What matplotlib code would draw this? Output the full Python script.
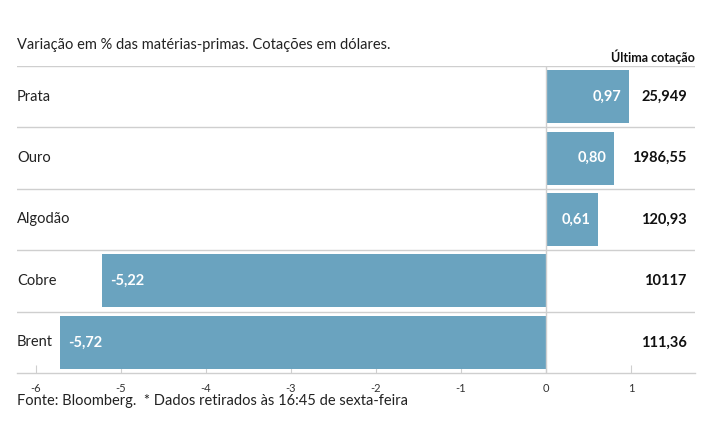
import matplotlib.pyplot as plt

plt.rcParams['font.family'] = ['Lato', 'DejaVu Sans']

commodities = ['Prata', 'Ouro', 'Algodão', 'Cobre', 'Brent']
change = [0.97, 0.80, 0.61, -5.22, -5.72]
last_quote = ['25,949', '1986,55', '120,93', '10117', '111,36']
xticks = [-6, -5, -4, -3, -2, -1, 0, 1]

bar_color = '#6aa3bf'
grid_color = '#cfcfcf'

fig = plt.figure(figsize=(7.15, 4.45), dpi=100)
ax = fig.add_axes([17 / 715, 1 - 373 / 445, 678 / 715, 307 / 445])

n = len(commodities)
ax.barh(range(n), change, height=0.86, color=bar_color, zorder=2)

# separadores entre linhas
for b in range(n):
    ax.axhline(b - 0.5, color=grid_color, lw=1, zorder=1)
ax.axvline(0, color=grid_color, lw=1, zorder=3)

for i, (name, v, q) in enumerate(zip(commodities, change, last_quote)):
    ax.text(0.0, i, name, transform=ax.get_yaxis_transform(), ha='left', va='center',
            fontsize=10.5, color='#222222')
    lbl = f'{v:.2f}'.replace('.', ',')
    if v >= 0:
        ax.text(v - 0.09, i, lbl, ha='right', va='center', color='white',
                fontsize=10.5, fontweight='bold', zorder=4)
    else:
        ax.text(v + 0.1, i, lbl, ha='left', va='center', color='white',
                fontsize=10.5, fontweight='bold', zorder=4)
    ax.text(0.988, i, q, transform=ax.get_yaxis_transform(), ha='right', va='center',
            fontsize=10.5, fontweight='bold', color='#111111')

ax.set_xlim(-6.22, 1.75)
ax.set_ylim(n - 0.5, -0.5)
ax.set_xticks(xticks)
ax.set_xticklabels([str(t) for t in xticks], fontsize=8, color='#333333')
ax.tick_params(axis='x', direction='in', length=6, color=grid_color, pad=7)
ax.set_yticks([])
for s in ax.spines.values():
    s.set_visible(False)
ax.spines['bottom'].set_visible(True)
ax.spines['bottom'].set_color(grid_color)
ax.spines['bottom'].set_linewidth(1)

fig.text(17 / 715, 1 - 45 / 445, 'Variação em % das matérias-primas. Cotações em dólares.',
         fontsize=10.5, color='#222222', va='center')
fig.text(695 / 715, 1 - 57 / 445, 'Última cotação', fontsize=9, fontweight='bold',
         ha='right', va='center', color='#111111')
fig.text(17 / 715, 1 - 401 / 445, 'Fonte: Bloomberg.  * Dados retirados às 16:45 de sexta-feira',
         fontsize=10.5, color='#222222', va='center')

fig.savefig('out.png', dpi=100)
